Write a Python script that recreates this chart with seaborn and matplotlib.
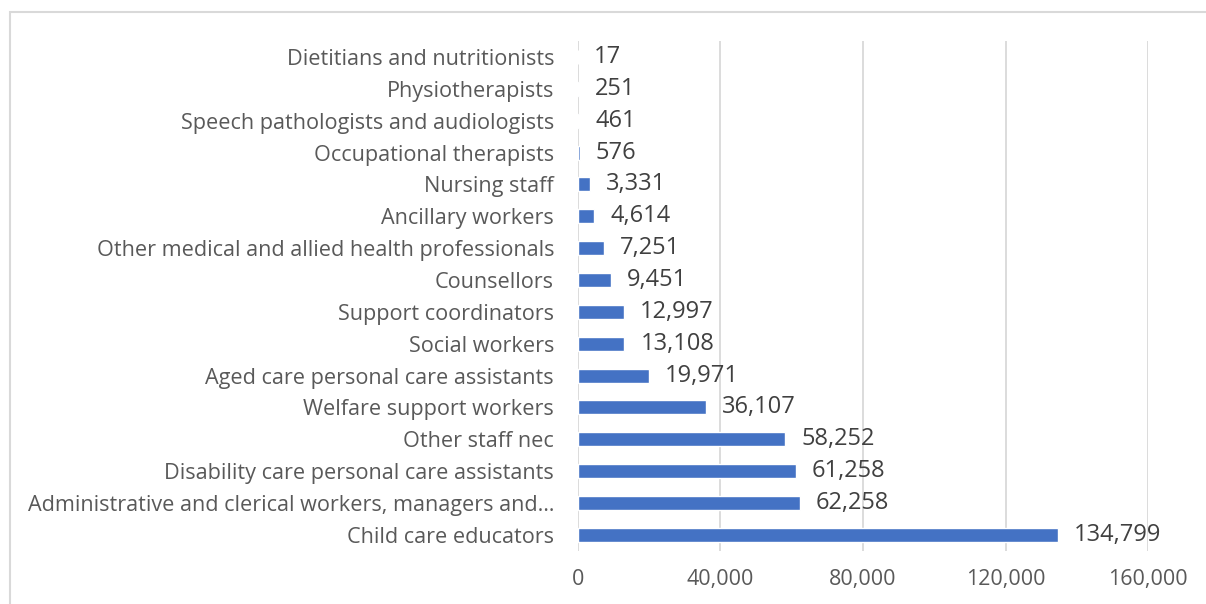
import matplotlib
matplotlib.use("Agg")
import matplotlib.pyplot as plt
from matplotlib.patches import Rectangle
import seaborn as sns
import pandas as pd

occupations = [
    "Dietitians and nutritionists",
    "Physiotherapists",
    "Speech pathologists and audiologists",
    "Occupational therapists",
    "Nursing staff",
    "Ancillary workers",
    "Other medical and allied health professionals",
    "Counsellors",
    "Support coordinators",
    "Social workers",
    "Aged care personal care assistants",
    "Welfare support workers",
    "Other staff nec",
    "Disability care personal care assistants",
    "Administrative and clerical workers, managers and\u2026",
    "Child care educators",
]
workers = [17, 251, 461, 576, 3331, 4614, 7251, 9451, 12997, 13108,
           19971, 36107, 58252, 61258, 62258, 134799]
x_ticks = [0, 40000, 80000, 120000, 160000]

df = pd.DataFrame({"occupation": occupations, "workers": workers})

sns.set_theme(style="white")
plt.rcParams["font.family"] = ["Open Sans", "DejaVu Sans"]

fig = plt.figure(figsize=(12.06, 6.04), dpi=100)
ax = fig.add_axes([0.479, 0.088, 0.473, 0.844])

sns.barplot(data=df, x="workers", y="occupation", orient="h",
            color="#4472C4", saturation=1, width=0.44, ax=ax, zorder=3)

ax.set_xlim(0, 160000)
ax.set_xticks(x_ticks)
ax.set_xticklabels([f"{t:,}" for t in x_ticks])
ax.set_xlabel("")
ax.set_ylabel("")
ax.grid(axis="x", color="#d9d9d9", linewidth=1.3, zorder=0)
for side in ["top", "right", "bottom", "left"]:
    ax.spines[side].set_visible(False)
ax.tick_params(axis="y", length=0, pad=17, labelsize=15.6, labelcolor="#595959")
ax.tick_params(axis="x", length=0, pad=13, labelsize=15.5, labelcolor="#595959")

# value labels just past the end of each bar
for i, v in enumerate(workers):
    ax.annotate(f"{v:,}", xy=(v, i), xytext=(11.5, 0),
                textcoords="offset points", va="center", ha="left",
                fontsize=17, color="#404040")

fig.add_artist(Rectangle((10 / 1206, -0.05), 1.2, (1 - 12 / 604) + 0.05,
                         transform=fig.transFigure, fill=False,
                         edgecolor="#d9d9d9", linewidth=1.5))

fig.savefig("out.png", dpi=100)
